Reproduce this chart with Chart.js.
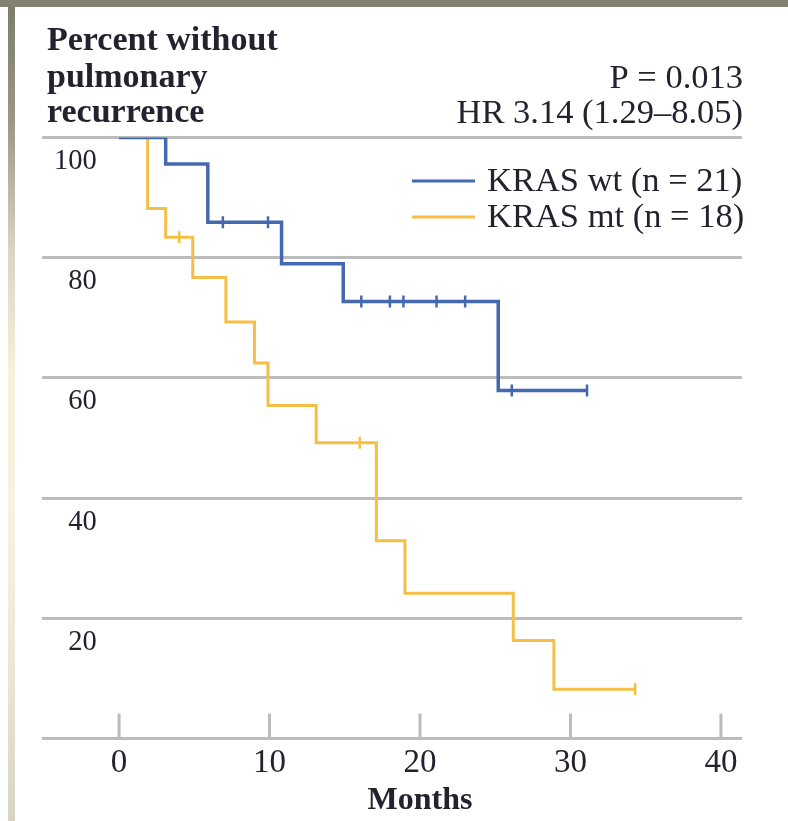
<!DOCTYPE html>
<html>
<head>
<meta charset="utf-8">
<script src="https://cdn.jsdelivr.net/npm/chart.js@4"></script>
<style>
  html, body { margin: 0; padding: 0; background: #ffffff; width: 788px; height: 821px; overflow: hidden; }
  #topbar { position: absolute; left: 0; top: 0; width: 788px; height: 7px; background: #84826f; }
  #stripe { position: absolute; left: 8px; top: 7px; width: 7px; height: 814px;
    background: linear-gradient(to bottom, #7e7c6a 0%, #9a9885 14%, #d9d5c3 30%, #f6f1dc 45%, #f8f3e0 62%, #ece8d6 80%, #d8d4c3 100%); }
  #wrap { position: absolute; left: 0; top: 0; width: 788px; height: 821px; }
</style>
</head>
<body>
<div id="topbar"></div>
<div id="stripe"></div>
<div id="wrap"><canvas id="c" width="788" height="821"></canvas></div>
<script>
// ---- data ----
const wtTimes     = [0, 3.1, 5.9, 10.8, 14.9, 25.2, 31.1];
const wtSurvival  = [100, 95.6, 85.9, 79.0, 72.7, 57.9, 57.9];
const wtCensored  = [6.9, 9.9, 16.1, 18.0, 18.9, 21.1, 23.0, 26.1, 31.1];

const mtTimes     = [0, 1.9, 3.1, 4.9, 7.1, 9.0, 9.9, 13.1, 17.1, 19.0, 26.2, 28.9, 34.3];
const mtSurvival  = [100, 88.2, 83.4, 76.7, 69.3, 62.5, 55.4, 49.2, 32.9, 24.2, 16.3, 8.2, 8.2];
const mtCensored  = [4.0, 16.0, 34.3];

const seriesLabels = ['KRAS wt (n = 21)', 'KRAS mt (n = 18)'];
const xTickValues  = [0, 10, 20, 30, 40];
const yTickValues  = [0, 20, 40, 60, 80, 100];
const titleLines   = ['Percent without', 'pulmonary', 'recurrence'];
const statLines    = ['P = 0.013', 'HR 3.14 (1.29\u20138.05)'];
const xAxisTitle   = 'Months';

// ---- helpers ----
const BLUE = '#4469b1';
const YELLOW = '#f5bf45';
const GRID = '#bcbcbc';
const TEXT = '#23232f';
const SERIF = '"Liberation Serif", "Times New Roman", serif';

function stepValue(times, vals, t) {
  let v = vals[0];
  for (let i = 0; i < times.length; i++) { if (times[i] <= t) v = vals[i]; }
  return v;
}
function curve(times, vals) { return times.map((t, i) => ({ x: t, y: vals[i] })); }
function censors(cts, times, vals) { return cts.map(t => ({ x: t, y: stepValue(times, vals, t) })); }

const decor = {
  id: 'decor',
  afterDraw(chart) {
    const ctx = chart.ctx;
    const ca = chart.chartArea;
    const xs = chart.scales.x;
    ctx.save();
    // upward tick marks on x axis
    ctx.strokeStyle = GRID;
    ctx.lineWidth = 3;
    xs.ticks.forEach(tk => {
      const px = xs.getPixelForValue(tk.value);
      ctx.beginPath();
      ctx.moveTo(px, ca.bottom);
      ctx.lineTo(px, ca.bottom - 25);
      ctx.stroke();
    });
    // y-axis title block
    ctx.fillStyle = TEXT;
    ctx.textAlign = 'left';
    ctx.textBaseline = 'alphabetic';
    ctx.font = 'bold 34px ' + SERIF;
    const tb = [50, 87, 122];
    titleLines.forEach((s, i) => ctx.fillText(s, 47, tb[i]));
    // statistics
    ctx.font = '34.5px ' + SERIF;
    ctx.textAlign = 'right';
    const sb = [88, 123];
    statLines.forEach((s, i) => ctx.fillText(s, ca.right + 1, sb[i]));
    // legend
    const legendDs = chart.data.datasets.filter(d => !d.isCensor);
    const ly = [181, 217];
    legendDs.forEach((d, i) => {
      ctx.strokeStyle = d.borderColor;
      ctx.lineWidth = 3;
      ctx.beginPath();
      ctx.moveTo(412, ly[i]);
      ctx.lineTo(475, ly[i]);
      ctx.stroke();
      ctx.fillStyle = TEXT;
      ctx.textAlign = 'left';
      ctx.textBaseline = 'middle';
      ctx.font = '34.5px ' + SERIF;
      ctx.fillText(d.label, 487, ly[i] + 1);
    });
    // x axis title
    ctx.font = 'bold 32px ' + SERIF;
    ctx.textAlign = 'center';
    ctx.textBaseline = 'alphabetic';
    const cx = (xs.getPixelForValue(xTickValues[0]) + xs.getPixelForValue(xTickValues[xTickValues.length - 1])) / 2;
    ctx.fillText(xAxisTitle, cx, 809);
    ctx.restore();
  }
};

new Chart(document.getElementById('c'), {
  type: 'line',
  data: {
    datasets: [
      { label: seriesLabels[0], isCensor: true, data: censors(wtCensored, wtTimes, wtSurvival),
        showLine: false, pointStyle: 'line', rotation: 90, pointRadius: 6, pointBorderWidth: 2.5,
        borderColor: BLUE, backgroundColor: BLUE, order: 0 },
      { label: seriesLabels[0], data: curve(wtTimes, wtSurvival), stepped: true,
        borderColor: BLUE, borderWidth: 3.5, pointRadius: 0, fill: false, order: 1 },
      { label: seriesLabels[1], isCensor: true, data: censors(mtCensored, mtTimes, mtSurvival),
        showLine: false, pointStyle: 'line', rotation: 90, pointRadius: 6, pointBorderWidth: 2.5,
        borderColor: YELLOW, backgroundColor: YELLOW, order: 2 },
      { label: seriesLabels[1], data: curve(mtTimes, mtSurvival), stepped: true,
        borderColor: YELLOW, borderWidth: 3, pointRadius: 0, fill: false, order: 3 }
    ]
  },
  options: {
    responsive: false,
    animation: false,
    events: [],
    layout: { padding: { left: 18, right: 46, top: 137.5, bottom: 40.8 } },
    plugins: { legend: { display: false }, tooltip: { enabled: false } },
    scales: {
      x: {
        type: 'linear', min: -5.12, max: 41.4,
        afterBuildTicks: s => { s.ticks = xTickValues.map(v => ({ value: v })); },
        grid: { display: false },
        border: { display: false },
        ticks: { font: { family: SERIF, size: 33 }, color: TEXT, padding: -3, maxRotation: 0, autoSkip: false }
      },
      y: {
        type: 'linear', min: 0, max: 100,
        afterBuildTicks: s => { s.ticks = yTickValues.map(v => ({ value: v })); },
        grid: { color: GRID, lineWidth: 3, drawTicks: false },
        border: { display: false },
        ticks: { mirror: true, crossAlign: 'far', padding: 12, labelOffset: 24,
                 font: { family: SERIF, size: 28.5 }, color: TEXT,
                 callback: v => (v === 0 ? '' : String(v)) }
      }
    }
  },
  plugins: [decor]
});
</script>
</body>
</html>
